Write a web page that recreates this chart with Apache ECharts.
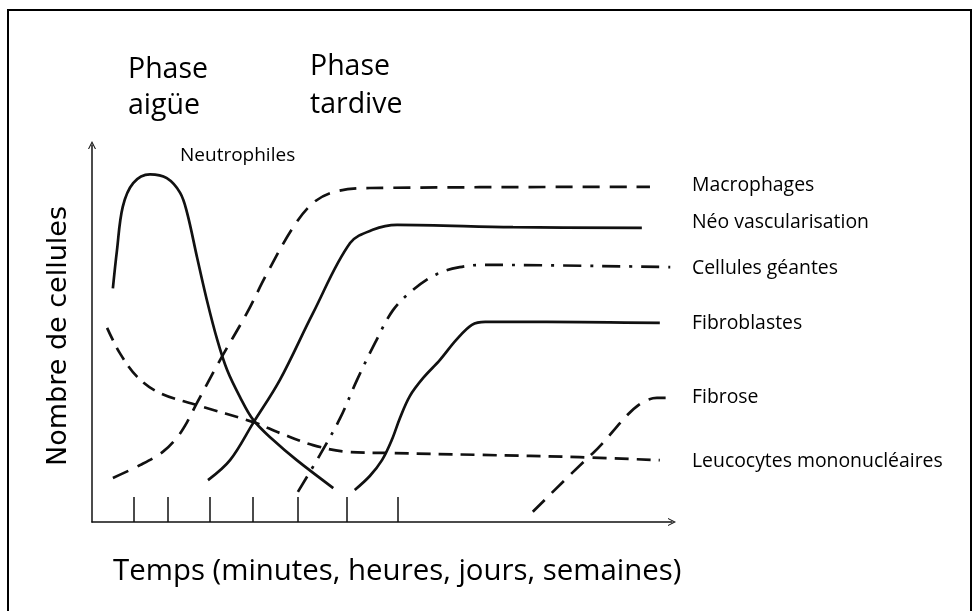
<!DOCTYPE html>
<html>
<head>
<meta charset="utf-8">
<title>Phases de l'inflammation</title>
<script src="https://cdn.jsdelivr.net/npm/echarts@6/dist/echarts.min.js"></script>
<style>
  html, body { margin: 0; padding: 0; background: #fff; }
  #chart { width: 973px; height: 611px; }
</style>
</head>
<body>
<div id="chart"></div>
<script>
// courbes schématiques : [temps, nombre de cellules] en unités arbitraires (0-100)
const neutrophiles = [[3.6, 62], [4.3, 72], [5.3, 83.6], [7.1, 89.9], [10, 92.2], [12.9, 91.2], [15.2, 87.3],
  [16.4, 82], [18.1, 70.3], [19.8, 58.9], [21.6, 48.3], [23.3, 40.3], [25.5, 33.2], [27.8, 27.1],
  [31.2, 21.8], [35.3, 16.4], [41.6, 9]]
const leucocytes = [[2.6, 51.5], [4.8, 44.8], [7.8, 38.5], [11.7, 34.2], [18.1, 31], [27.8, 26.5],
  [32.4, 23.6], [38.1, 20.4], [44, 18.6], [51.4, 18.3], [66.9, 17.8], [84.1, 17.2], [97.9, 16.4]]
const macrophages = [[3.6, 11.7], [8.3, 15.1], [12.2, 18.6], [14.7, 22.5], [16.4, 26.5], [18.1, 31.6],
  [22.1, 43], [26.7, 55.4], [30.2, 66], [34.7, 78.2], [38.1, 84.6], [41.6, 87.5], [47.9, 88.6], [96.2, 88.9]]
const neoVasc = [[20, 11.1], [23.8, 16.4], [27.8, 26.3], [32.4, 37.7], [38.1, 55.4], [44.5, 74],
  [48.4, 77.5], [52.6, 78.8], [72.6, 78.2], [94.8, 78]]
const cellulesGeantes = [[35.5, 8], [39.3, 17.8], [42.8, 27.6], [45.7, 37.7], [48.8, 47.5], [51.9, 56.2],
  [55.3, 61.5], [59.5, 65.8], [63.4, 67.6], [67.4, 68.2], [99.7, 67.6]]
const fibroblastes = [[45.3, 8.5], [47.9, 12.2], [50, 16.4], [51.7, 21.8], [53.1, 27.6], [54.8, 33.4],
  [57.1, 38.2], [60, 43], [62.8, 48.3], [65.5, 52.3], [67.8, 53.1], [78.4, 53.1], [97.9, 52.8]]
const fibrose = [[76, 2.7], [86.4, 18.3], [97.4, 32.9], [99.3, 32.9]]

// graduations de l'axe du temps
const timeTicks = [7.2, 13.1, 20.3, 27.8, 35.5, 44, 52.8]

const seriesLabels = [
  { text: 'Macrophages', y: 185 },
  { text: 'Néo vascularisation', y: 222 },
  { text: 'Cellules géantes', y: 268 },
  { text: 'Fibroblastes', y: 323 },
  { text: 'Fibrose', y: 397 },
  { text: 'Leucocytes mononucléaires', y: 461 }
]

const chart = echarts.init(document.getElementById('chart'), null, { renderer: 'canvas' })

const arrowPath = 'path://M0,10 L5,0 L10,10 L8.6,10 L5,2.8 L1.4,10 Z'
const ink = '#111'

const makeLine = (name, data, type, width) => ({
  name,
  type: 'line',
  data,
  smooth: 0.35,
  smoothMonotone: 'none',
  symbol: 'none',
  silent: true,
  lineStyle: { color: ink, width: width || 2.7, type: type || 'solid', cap: 'butt' }
})

const textEl = (text, x, y, font, extra) => Object.assign({
  type: 'text',
  x, y,
  style: { text, font, fill: '#000', textVerticalAlign: 'middle' }
}, extra || {})

const option = {
  animation: false,
  backgroundColor: '#fff',
  grid: { left: 92, right: 301, top: 145, bottom: 89 },
  xAxis: {
    type: 'value',
    min: 0,
    max: 100,
    axisLine: {
      show: true,
      symbol: ['none', arrowPath],
      symbolSize: [11, 8],
      lineStyle: { color: ink, width: 1.5 }
    },
    axisTick: {
      show: true,
      inside: true,
      length: 25,
      customValues: timeTicks,
      lineStyle: { color: ink, width: 1.5 }
    },
    axisLabel: { show: false },
    splitLine: { show: false }
  },
  yAxis: {
    type: 'value',
    min: 0,
    max: 100,
    axisLine: {
      show: true,
      symbol: ['none', arrowPath],
      symbolSize: [11, 8],
      lineStyle: { color: ink, width: 1.5 }
    },
    axisTick: { show: false },
    axisLabel: { show: false },
    splitLine: { show: false }
  },
  series: [
    makeLine('Neutrophiles', neutrophiles),
    makeLine('Leucocytes mononucléaires', leucocytes, [14, 8]),
    makeLine('Macrophages', macrophages, [17, 10]),
    makeLine('Néo vascularisation', neoVasc),
    makeLine('Cellules géantes', cellulesGeantes, [18, 9, 3, 9]),
    makeLine('Fibroblastes', fibroblastes),
    makeLine('Fibrose', fibrose, [17, 10])
  ],
  graphic: [
    {
      type: 'rect',
      shape: { x: 8, y: 10, width: 963, height: 640 },
      style: { fill: 'none', stroke: '#000', lineWidth: 2 }
    },
    textEl('Phase', 128, 70, '28.5px "Open Sans"'),
    textEl('aigüe', 128, 106, '28.5px "Open Sans"'),
    textEl('Phase', 310, 67, '28.5px "Open Sans"'),
    textEl('tardive', 310, 105, '28.5px "Open Sans"'),
    textEl('Neutrophiles', 180, 156, '19px "Open Sans"'),
    ...seriesLabels.map(l => textEl(l.text, 692, l.y, '19.4px "Open Sans"')),
    textEl('Temps (minutes, heures, jours, semaines)', 113, 572, '29.4px "Open Sans"'),
    {
      type: 'text',
      x: 59,
      y: 336,
      rotation: Math.PI / 2,
      style: {
        text: 'Nombre de cellules',
        font: '27px "DejaVu Sans"',
        fill: '#000',
        textAlign: 'center',
        textVerticalAlign: 'middle'
      }
    }
  ]
}

chart.setOption(option)
window.addEventListener('resize', () => chart.resize())
</script>
</body>
</html>
